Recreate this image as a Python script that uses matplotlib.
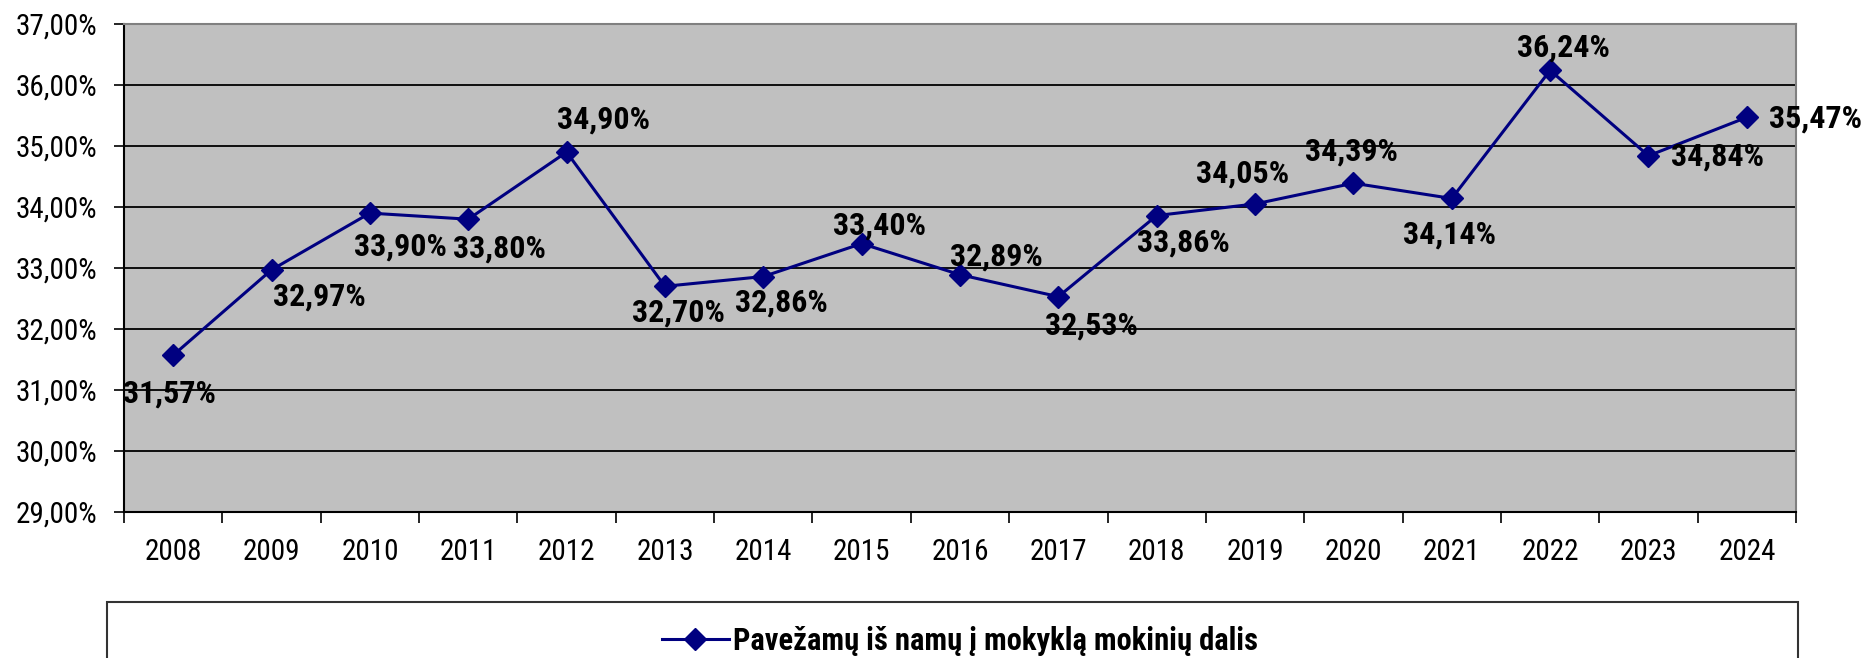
import matplotlib
matplotlib.use("Agg")
import matplotlib.pyplot as plt
from matplotlib import font_manager
from matplotlib.lines import Line2D
from matplotlib.patches import Rectangle
from matplotlib.ticker import FuncFormatter, FixedLocator

# ─── DATA ─────────────────────────────────────────────────
years = ['2008', '2009', '2010', '2011', '2012', '2013', '2014', '2015', '2016',
         '2017', '2018', '2019', '2020', '2021', '2022', '2023', '2024']
share = [31.57, 32.97, 33.90, 33.80, 34.90, 32.70, 32.86, 33.40, 32.89,
         32.53, 33.86, 34.05, 34.39, 34.14, 36.24, 34.84, 35.47]
series_name = 'Pavežamų iš namų į mokyklą mokinių dalis'

# label offsets (pixels) relative to each point
label_dx = [-4, 48, 31, 31, 37, 13, 18, 18, 36, 33, 27, -12, -2, -2, 13, 69, 69]
label_dy = [-38, -27, -33, -29, 33, -26, -26, 18, 18, -29, -27, 30, 32, -36, 23, -1, -1]

# ─── FONT ─────────────────────────────────────────────────
names = {f.name for f in font_manager.fontManager.ttflist}
FONT = 'Liberation Sans'
for cand in ['Liberation Sans Narrow', 'Arial Narrow', 'Roboto Condensed']:
    if cand in names:
        FONT = cand
        break
plt.rcParams['font.family'] = [FONT, 'DejaVu Sans']

NAVY = '#000080'
W, H = 1873, 658
fig = plt.figure(figsize=(W / 100, H / 100), dpi=100)
ax = fig.add_axes([124 / W, (H - 512) / H, 1672 / W, 488 / H])
ax.set_facecolor('#C0C0C0')

x = list(range(len(years)))
ax.plot(x, share, color=NAVY, lw=2.2, marker='D', ms=11, mfc=NAVY, mec=NAVY,
        zorder=3, clip_on=False)

for i, v in enumerate(share):
    ax.annotate(f'{v:.2f}%'.replace('.', ','), (i, v),
                xytext=(label_dx[i], label_dy[i]), textcoords='offset pixels',
                ha='center', va='center', fontsize=23, fontweight='bold',
                color='black', zorder=4, annotation_clip=False)

ax.set_ylim(29, 37)
ax.set_yticks(range(29, 38))
ax.yaxis.set_major_formatter(FuncFormatter(lambda v, p: f'{v:.2f}%'.replace('.', ',')))
ax.grid(axis='y', color='black', lw=1.3)
ax.set_axisbelow(True)

ax.set_xlim(-0.5, len(years) - 0.5)
ax.xaxis.set_major_locator(FixedLocator([i - 0.5 for i in range(len(years) + 1)]))
ax.xaxis.set_minor_locator(FixedLocator(x))
ax.set_xticklabels([], minor=False)
ax.set_xticklabels(years, minor=True)
ax.tick_params(axis='x', which='major', length=8, width=1.2, color='black')
ax.tick_params(axis='x', which='minor', length=0, pad=19, labelsize=21)
ax.tick_params(axis='y', length=7, width=1.2, pad=12, labelsize=21)

for s in ['left', 'bottom']:
    ax.spines[s].set_color('black')
    ax.spines[s].set_linewidth(1.5)
for s in ['top', 'right']:
    ax.spines[s].set_color('#808080')
    ax.spines[s].set_linewidth(1.5)

# ─── LEGEND BOX ───────────────────────────────────────────
fig.patches.append(Rectangle((107 / W, -0.1), 1691 / W, (0.1 + (H - 602) / H),
                             transform=fig.transFigure, fill=False,
                             edgecolor='#333333', lw=1.5))
handle = Line2D([], [], color=NAVY, lw=2.2, marker='D', ms=11, mfc=NAVY, mec=NAVY)
fig.legend([handle], [series_name], loc='center', bbox_to_anchor=(960 / W, 1 - 641 / H),
           frameon=False, prop={'size': 22, 'weight': 'bold'},
           handlelength=2.2, handletextpad=0.15)

fig.savefig('out.png', dpi=100)
